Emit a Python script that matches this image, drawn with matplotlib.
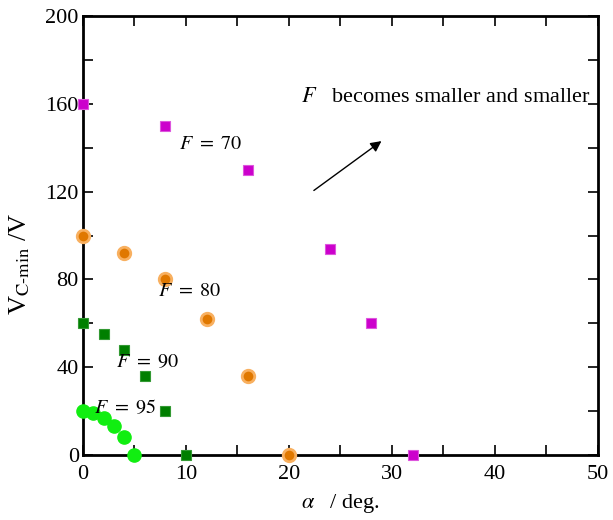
import matplotlib
matplotlib.use("Agg")
from matplotlib import pyplot as plt
from matplotlib.ticker import MultipleLocator

plt.rcParams['font.family'] = ['Liberation Serif', 'DejaVu Serif']
plt.rcParams['mathtext.fontset'] = 'stix'

# F = 70
a70 = [0, 8, 16, 24, 28, 32]
v70 = [160, 150, 130, 94, 60, 0]
# F = 80
a80 = [0, 4, 8, 12, 16, 20]
v80 = [100, 92, 80, 62, 36, 0]
# F = 90
a90 = [0, 2, 4, 6, 8, 10]
v90 = [60, 55, 48, 36, 20, 0]
# F = 95
a95 = [0, 1, 2, 3, 4, 5]
v95 = [20, 19, 17, 13, 8, 0]

fig = plt.figure(figsize=(6.13, 5.2), dpi=100)
ax = fig.add_axes([0.1354, 0.125, 0.840, 0.844])

ax.plot(a70, v70, 's', color='#cc00cc', ms=7, mec='#dd55dd', mew=0.8, ls='none', clip_on=False, zorder=3)
ax.plot(a80, v80, 'o', color='#e07800', ms=9, mec='#f8b060', mew=2, ls='none', clip_on=False, zorder=3)
ax.plot(a90, v90, 's', color='#007f00', ms=7, mec='#339933', mew=0.8, ls='none', clip_on=False, zorder=3)
ax.plot(a95, v95, 'o', color='#11ee11', ms=9.5, mec='#11ee11', ls='none', clip_on=False, zorder=3)

ax.set_xlim(0, 50)
ax.set_ylim(0, 200)
ax.xaxis.set_major_locator(MultipleLocator(10))
ax.xaxis.set_minor_locator(MultipleLocator(5))
ax.yaxis.set_major_locator(MultipleLocator(40))
ax.yaxis.set_minor_locator(MultipleLocator(20))
ax.tick_params(which='both', direction='in', top=True, right=True, labelsize=16, width=1.2)
ax.tick_params(which='major', length=7, pad=3)
ax.tick_params(which='minor', length=7)
ax.tick_params(axis='x', which='major', pad=7)
for s in ax.spines.values():
    s.set_linewidth(2)

ax.set_xlabel(r'$\alpha$   / deg.', fontsize=16, labelpad=6)
ax.set_ylabel(r'V$_{\mathrm{C\text{-}min}}$ /V', fontsize=19)
ax.yaxis.set_label_coords(-0.1, 0.435)

fs = 14.5
ax.text(9.3, 141.5, r'$F\ =\ 70$', fontsize=fs, va='center')
ax.text(7.3, 74.5, r'$F\ =\ 80$', fontsize=fs, va='center')
ax.text(3.2, 42, r'$F\ =\ 90$', fontsize=fs, va='center')
ax.text(1.1, 21, r'$F\ =\ 95$', fontsize=fs, va='center')
ax.text(21.2, 163, r'$F$   becomes smaller and smaller', fontsize=16, va='center')
ax.annotate('', xy=(29.2, 143.8), xytext=(22.2, 119.8),
            arrowprops=dict(arrowstyle='-|>', color='black', lw=1, mutation_scale=16))

fig.savefig('out.png', dpi=100)
